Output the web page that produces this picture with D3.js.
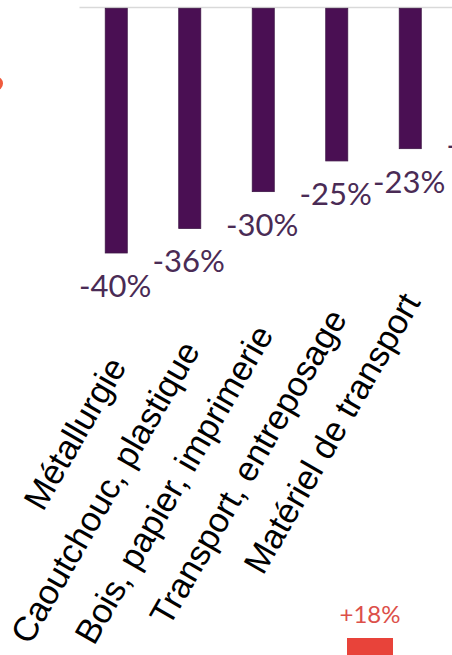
<!DOCTYPE html>
<html><head><meta charset="utf-8">
<script src="https://cdn.jsdelivr.net/npm/d3@7"></script>
<style>html,body{margin:0;padding:0;background:#fff;overflow:hidden}</style>
</head><body><svg id="c" width="452" height="655"></svg>
<script>
// Main chart (negative change by sector)
const categories = ["Métallurgie", "Caoutchouc, plastique", "Bois, papier, imprimerie", "Transport, entreposage", "Matériel de transport", ""];
const values = [-40, -36, -30, -25, -23, -17];
const valueLabels = ["-40%", "-36%", "-30%", "-25%", "-23%", "-17%"];
// Partially visible chart below
const otherCategories = ["autre"];
const otherValues = [18];
const otherLabels = ["+18%"];

const svg = d3.select("#c");

const x = d3.scaleBand().domain(categories).range([79.5, 79.5 + 73.5 * categories.length])
  .paddingInner(0.7).paddingOuter(0.35);
const y = d3.scaleLinear().domain([0, -40]).range([7.5, 253]);

// baseline
svg.append("line")
  .attr("x1", x.range()[0]).attr("x2", x.range()[1])
  .attr("y1", y(0)).attr("y2", y(0))
  .attr("stroke", "#d9d9d9").attr("stroke-width", 1.6);

// bars
svg.selectAll("rect.bar").data(categories).join("rect")
  .attr("class", "bar")
  .attr("x", d => x(d))
  .attr("y", y(0) + 0.8)
  .attr("width", x.bandwidth())
  .attr("height", (d, i) => y(values[i]) - y(0) - 0.8)
  .attr("fill", "#4a0f53")
  .attr("stroke", "#3f1747").attr("stroke-width", 0.8);

// value labels
svg.selectAll("text.val").data(categories).join("text")
  .attr("class", "val")
  .attr("x", d => x(d) + x.bandwidth() / 2 - 1)
  .attr("y", (d, i) => y(values[i]) + 44)
  .attr("text-anchor", "middle")
  .attr("font-family", "Lato, 'Open Sans', sans-serif")
  .attr("font-size", 31)
  .attr("fill", "#4a2b55")
  .text((d, i) => valueLabels[i]);

// category labels (rotated)
const labelEndY = d3.scaleLinear().domain([128.5, 422.5]).range([366, 302]);
svg.selectAll("text.cat").data(categories).join("text")
  .attr("class", "cat")
  .attr("transform", d => {
    const cx = x(d) + x.bandwidth() / 2 + 11;
    return `translate(${cx},${labelEndY(cx)}) rotate(-60)`;
  })
  .attr("text-anchor", "end")
  .attr("font-family", "'Liberation Sans', Arial, sans-serif")
  .attr("font-size", 34.5)
  .attr("fill", "#000")
  .text(d => d);

// partially visible marker at left edge
svg.append("circle").attr("cx", -4).attr("cy", 83.5).attr("r", 7).attr("fill", "#ef5a3d");

// lower chart (cut off)
const x2 = d3.scaleBand().domain(otherCategories).range([324, 416]).paddingInner(0.5).paddingOuter(0.25);
const y2 = d3.scaleLinear().domain([0, 18]).range([800, 638]);
svg.selectAll("rect.other").data(otherCategories).join("rect")
  .attr("class", "other")
  .attr("x", d => x2(d))
  .attr("y", (d, i) => y2(otherValues[i]))
  .attr("width", x2.bandwidth())
  .attr("height", (d, i) => y2(0) - y2(otherValues[i]))
  .attr("fill", "#e8433a");
svg.selectAll("text.otherval").data(otherCategories).join("text")
  .attr("class", "otherval")
  .attr("x", d => x2(d) + x2.bandwidth() / 2)
  .attr("y", (d, i) => y2(otherValues[i]) - 15)
  .attr("text-anchor", "middle")
  .attr("font-family", "Lato, 'Open Sans', sans-serif")
  .attr("font-size", 24)
  .attr("fill", "#dc4f49")
  .text((d, i) => otherLabels[i]);
</script>
</body></html>
